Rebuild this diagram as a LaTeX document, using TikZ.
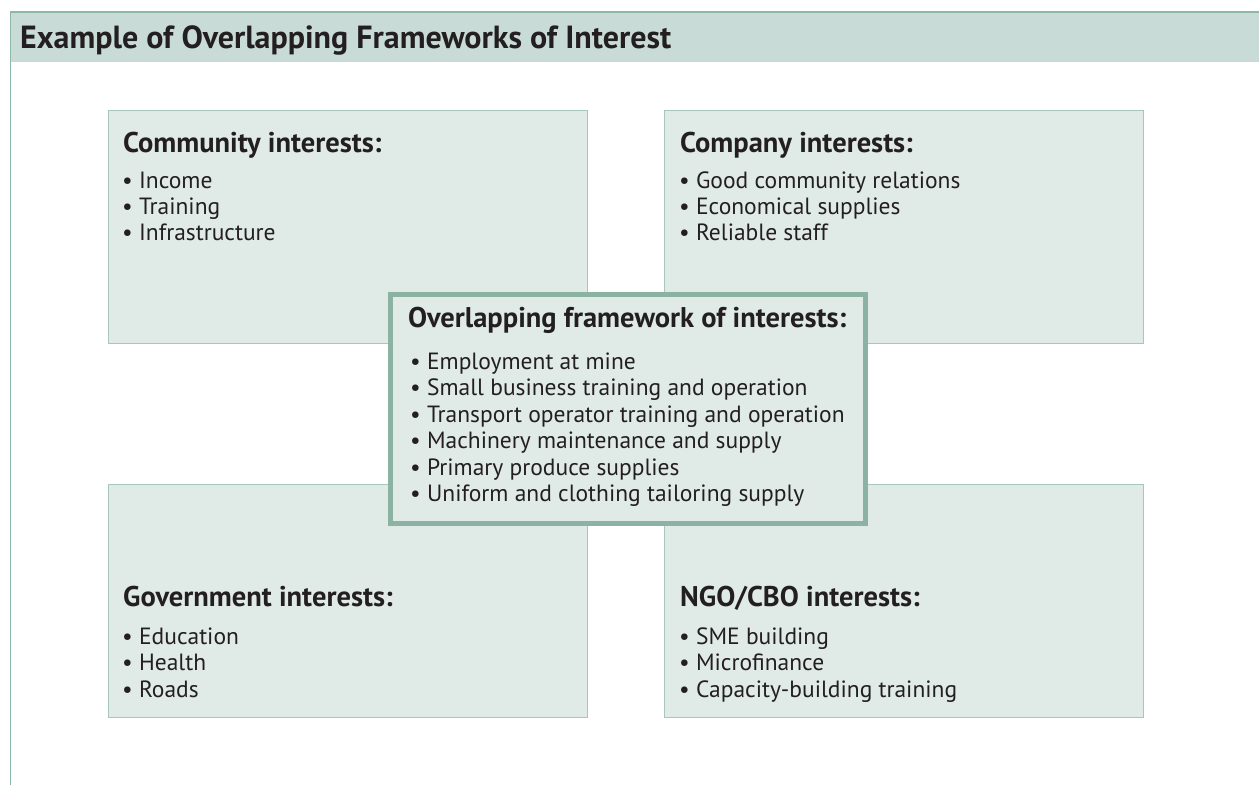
\documentclass[tikz,border=0pt]{standalone}
\usepackage{fontspec}
\setmainfont{PT Sans}
\usepackage{xcolor}
\usepackage{tikz}

\definecolor{band}{HTML}{C9DBD6}
\definecolor{bandline}{HTML}{8FB7A9}
\definecolor{boxfill}{HTML}{E0EAE6}
\definecolor{boxline}{HTML}{A7C7BC}
\definecolor{coreline}{HTML}{8CB2A3}
\definecolor{ink}{HTML}{231F20}

\tikzset{
	panel/.style={draw=boxline, fill=boxfill, line width=1pt, anchor=north west, inner sep=0pt, outer sep=0pt, minimum width=479pt, minimum height=233pt},
	core/.style={draw=coreline, fill=boxfill, line width=5pt, anchor=north west, inner sep=0pt, outer sep=0pt, minimum width=475pt, minimum height=229pt},
	head/.style={anchor=base west, inner sep=0pt, text=ink, font=\fontsize{28.5}{32}\selectfont\bfseries},
	entry/.style={anchor=base west, inner sep=0pt, text=ink, font=\fontsize{23.5}{27}\selectfont},
}

\begin{document}
\begin{tikzpicture}[x=1pt, y=-1pt]
	\useasboundingbox (0,0) rectangle (1259,785);
	% title band
	\fill[band] (10,12) rectangle (1259,62);
	\draw[bandline, line width=1.2pt] (10,12) -- (1259,12);
	\draw[bandline, line width=1.2pt] (10.6,12) -- (10.6,785);
	\node[head, font=\fontsize{32}{36}\selectfont\bfseries] (title) at (20,48) {Example of Overlapping Frameworks of Interest};
	% four panels
	\node[panel] (comm) at (108.5,110.5) {};
	\node[panel] (comp) at (664.5,110.5) {};
	\node[panel] (gov) at (108.5,484.5) {};
	\node[panel] (ngo) at (664.5,484.5) {};
	\node[head] (comm-h) at (123,152) {Community interests:};
	\foreach \t [count=\i from 0] in {Income, Training, Infrastructure}
		\node[entry] (comm-\i) at (122,188+26*\i) {•~\t};
	\node[head] (comp-h) at (680,152) {Company interests:};
	\foreach \t [count=\i from 0] in {Good community relations, Economical supplies, Reliable staff}
		\node[entry] (comp-\i) at (679,188+26*\i) {•~\t};
	\node[head] (gov-h) at (123,606) {Government interests:};
	\foreach \t [count=\i from 0] in {Education, Health, Roads}
		\node[entry] (gov-\i) at (122,644+26.5*\i) {•~\t};
	\node[head] (ngo-h) at (680,606) {NGO/CBO interests:};
	\foreach \t [count=\i from 0] in {SME building, Microfinance, Capacity-building training}
		\node[entry] (ngo-\i) at (679,644+26.5*\i) {•~\t};
	% overlap in the middle
	\node[core] (core) at (390.5,294.5) {};
	\node[head] (core-h) at (408,327) {Overlapping framework of interests:};
	\foreach \t [count=\i from 0] in {Employment at mine, Small business training and operation, Transport operator training and operation, Machinery maintenance and supply, Primary produce supplies, Uniform and clothing tailoring supply}
		\node[entry] (core-\i) at (410,369+26.5*\i) {•~\t};
\end{tikzpicture}
\end{document}
